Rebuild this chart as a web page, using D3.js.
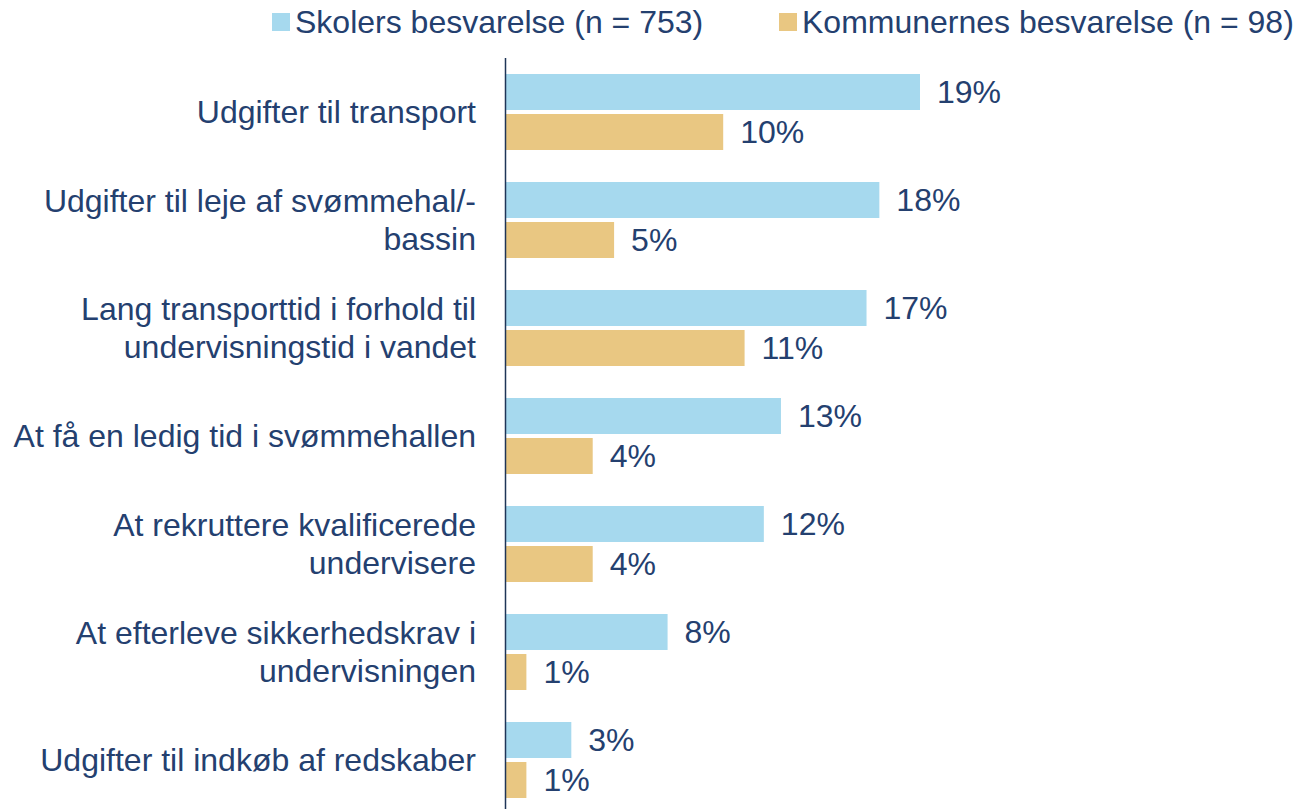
<!DOCTYPE html>
<html>
<head>
<meta charset="utf-8">
<script src="https://cdn.jsdelivr.net/npm/d3@7"></script>
<style>
  body { margin: 0; background: #fff; }
  text { font-family: "Liberation Sans", Arial, sans-serif; fill: #24406F; }
</style>
</head>
<body>
<div class="chart"></div>
<script>
var categories = [
  ["Udgifter til transport"],
  ["Udgifter til leje af svømmehal/-", "bassin"],
  ["Lang transporttid i forhold til", "undervisningstid i vandet"],
  ["At få en ledig tid i svømmehallen"],
  ["At rekruttere kvalificerede", "undervisere"],
  ["At efterleve sikkerhedskrav i", "undervisningen"],
  ["Udgifter til indkøb af redskaber"]
];
var seriesNames = ["Skolers besvarelse (n = 753)", "Kommunernes besvarelse (n = 98)"];
var skoler = [19.4, 17.5, 16.9, 12.9, 12.1, 7.6, 3.1];
var kommuner = [10.2, 5.1, 11.2, 4.1, 4.1, 1.0, 1.0];
var colors = ["#A6D9EE", "#E9C782"];

var svgWidth = 1296;
var svgHeight = 809;
var fontSize = "32px";

var svg = d3.select(".chart")
  .append("svg")
  .attr("width", svgWidth)
  .attr("height", svgHeight);

var x0 = 505;

var xScale = d3.scaleLinear()
  .domain([0, 19.4])
  .range([x0, 920]);

var yScale = d3.scaleBand()
  .domain(d3.range(categories.length))
  .range([58, 814])
  .paddingInner(32 / 108)
  .paddingOuter(16 / 108);

var subScale = d3.scaleBand()
  .domain([0, 1])
  .range([0, yScale.bandwidth()])
  .paddingInner(0.1);

var rows = categories.map(function(c, i) {
  return { label: c, values: [skoler[i], kommuner[i]] };
});

var groups = svg.selectAll(".group")
  .data(rows)
  .enter()
  .append("g")
  .attr("transform", function(d, i) { return `translate(0, ${yScale(i)})`; });

groups.selectAll("rect")
  .data(function(d) { return d.values; })
  .enter()
  .append("rect")
  .attr("x", x0)
  .attr("y", function(d, j) { return subScale(j); })
  .attr("width", function(d) { return xScale(d) - x0; })
  .attr("height", subScale.bandwidth())
  .attr("fill", function(d, j) { return colors[j]; });

groups.selectAll(".val")
  .data(function(d) { return d.values; })
  .enter()
  .append("text")
  .attr("class", "val")
  .attr("x", function(d) { return xScale(d) + 17; })
  .attr("y", function(d, j) { return subScale(j) + subScale.bandwidth() / 2; })
  .attr("dy", "0.34em")
  .style("font-size", fontSize)
  .text(function(d) { return Math.round(d) + "%"; });

// category labels
groups.append("text")
  .attr("text-anchor", "end")
  .style("font-size", fontSize)
  .each(function(d) {
    var t = d3.select(this);
    var n = d.label.length;
    var lh = 38;
    d.label.forEach(function(line, k) {
      t.append("tspan")
        .attr("x", 476)
        .attr("y", yScale.bandwidth() / 2 + (k - (n - 1) / 2) * lh)
        .attr("dy", "0.33em")
        .text(line);
    });
  });

// axis line
svg.append("line")
  .attr("x1", x0 + 0.5)
  .attr("x2", x0 + 0.5)
  .attr("y1", 58)
  .attr("y2", svgHeight)
  .attr("stroke", "#1F3557")
  .attr("stroke-width", 1.5);

// legend
var legendX = [272, 779];
var legend = svg.selectAll(".legend")
  .data(seriesNames)
  .enter()
  .append("g")
  .attr("transform", function(d, i) { return `translate(${legendX[i]}, 22)`; });

legend.append("rect")
  .attr("x", 0)
  .attr("y", -9)
  .attr("width", 18)
  .attr("height", 18)
  .attr("fill", function(d, i) { return colors[i]; });

legend.append("text")
  .attr("x", 23)
  .attr("y", 0)
  .attr("dy", "0.34em")
  .style("font-size", fontSize)
  .text(function(d) { return d; });
</script>
</body>
</html>
